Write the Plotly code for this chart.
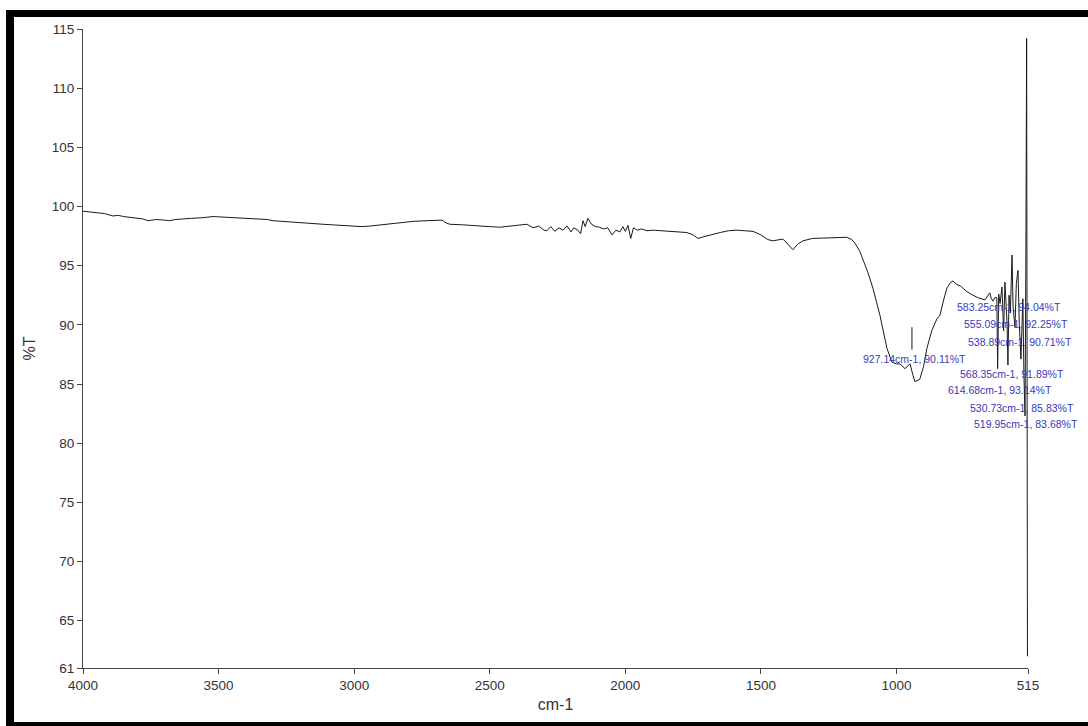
import plotly.graph_objects as go

# ---- data ----
wavenumber = [
    4000, 3960, 3920, 3890, 3870, 3850, 3820, 3800, 3780, 3760, 3730, 3700, 3680, 3660, 3640,
    3600, 3560, 3520, 3480, 3440, 3400, 3350, 3320, 3300, 3274, 3240, 3200, 3150, 3115, 3080,
    3050, 3000, 2971, 2940, 2905, 2860, 2831, 2780, 2731, 2700, 2676, 2660, 2647, 2600, 2550,
    2500, 2463, 2420, 2380, 2363, 2340, 2320, 2300, 2289, 2275, 2260, 2245, 2230, 2215, 2200,
    2190, 2175, 2165, 2156, 2148, 2138, 2125, 2110, 2095, 2080, 2065, 2049, 2035, 2020, 2009,
    2000, 1990, 1980, 1970, 1955, 1940, 1920, 1898, 1860, 1820, 1773, 1750, 1732, 1710, 1688,
    1650, 1620, 1589, 1560, 1529, 1500, 1474, 1456, 1430, 1419, 1400, 1382, 1365, 1345, 1310,
    1271, 1220, 1183, 1165, 1153, 1135, 1124, 1105, 1087, 1061, 1035, 1017, 1000, 987, 969,
    955, 950, 940, 932, 914, 900, 888, 870, 851, 840, 825, 814, 800, 792, 777, 765, 755, 740,
    718, 700, 674, 665, 656, 650, 644, 637, 630, 627, 623, 618, 611, 605, 600, 592, 589, 585,
    580, 574, 570, 563, 558, 552, 547, 541, 537, 534, 530, 526, 523, 520, 517, 515,
]
transmittance = [
    99.6, 99.5, 99.4, 99.2, 99.25, 99.15, 99.05, 99.0, 98.95, 98.8, 98.9, 98.85, 98.8, 98.9,
    98.95, 99.0, 99.05, 99.15, 99.1, 99.05, 99.0, 98.95, 98.9, 98.8, 98.75, 98.7, 98.65, 98.55,
    98.5, 98.45, 98.4, 98.35, 98.3, 98.35, 98.45, 98.55, 98.65, 98.75, 98.8, 98.8, 98.85, 98.6,
    98.5, 98.45, 98.4, 98.3, 98.25, 98.35, 98.5, 98.5, 98.2, 98.35, 98.0, 97.95, 98.3, 97.9,
    98.2, 98.0, 98.35, 97.85, 98.2, 98.0, 97.7, 98.8, 98.3, 99.0, 98.5, 98.3, 98.25, 98.1,
    98.2, 97.6, 98.0, 97.85, 98.3, 97.9, 98.4, 97.3, 98.2, 98.0, 98.1, 97.95, 98.0, 97.95,
    97.9, 97.8, 97.6, 97.3, 97.45, 97.6, 97.8, 97.95, 98.0, 97.95, 97.9, 97.6, 97.2, 97.1,
    97.2, 97.25, 96.8, 96.35, 96.8, 97.1, 97.3, 97.35, 97.4, 97.4, 97.2, 96.9, 96.2, 95.6,
    94.4, 93.1, 90.8, 88.0, 86.85, 86.7, 86.7, 86.3, 86.6, 86.7, 85.8, 85.2, 85.4, 86.5, 88.0,
    89.5, 90.5, 90.8, 92.2, 93.1, 93.6, 93.7, 93.4, 93.3, 93.1, 92.8, 92.5, 92.3, 92.1, 92.4,
    92.7, 92.2, 92.0, 92.3, 92.3, 86.3, 92.6, 91.8, 93.2, 89.5, 93.6, 90.0, 86.6, 92.5, 91.0,
    95.9, 91.5, 89.8, 93.5, 94.6, 90.0, 87.1, 91.5, 92.2, 85.8, 82.3, 95.0, 114.2, 62.0, 62.5,
]

# peak labels (text and anchor position in data units)
peak_labels = [
    "583.25cm-1, 94.04%T", "555.09cm-1, 92.25%T", "538.89cm-1, 90.71%T",
    "927.14cm-1, 90.11%T", "568.35cm-1, 91.89%T", "614.68cm-1, 93.14%T",
    "530.73cm-1, 85.83%T", "519.95cm-1, 83.68%T",
]
label_x = [784, 758.5, 743.7, 1131, 773.3, 817.5, 736.4, 721.6]
label_y = [91.5, 90.06, 88.54, 87.1, 85.84, 84.48, 82.96, 81.61]

x_ticks = [4000, 3500, 3000, 2500, 2000, 1500, 1000, 515]
y_ticks = [61, 65, 70, 75, 80, 85, 90, 95, 100, 105, 110, 115]

FONT = "Arial, Liberation Sans, sans-serif"

fig = go.Figure()
fig.add_trace(go.Scatter(
    x=wavenumber, y=transmittance, mode="lines",
    line=dict(color="#1a1a1a", width=1), showlegend=False, hoverinfo="skip",
))

for t, lx, ly in zip(peak_labels, label_x, label_y):
    fig.add_annotation(x=lx, y=ly, text=t, showarrow=False, xanchor="left",
                       yanchor="middle", font=dict(family=FONT, size=10.5, color="#3a3ab8"))

# peak marker line near 927 cm-1
fig.add_shape(type="line", xref="x", yref="y", x0=943, x1=943, y0=87.9, y1=89.8,
              line=dict(color="#1a1a1a", width=1))

# thick black frame (top, left, bottom) in paper units relative to the plot area
L, R, T, B = 83, 60, 29, 58
W, H = 1088, 726
pw, ph = W - L - R, H - T - B
def px2x(px):
    return (px - L) / pw
def py2y(py):
    return (H - B - py) / ph
frame = [
    (6, 10, W, 17),   # top
    (6, 10, 14, H),   # left
    (6, 722, W, H),   # bottom
]
for x0, y0, x1, y1 in frame:
    fig.add_shape(type="rect", xref="paper", yref="paper",
                  x0=px2x(x0), x1=px2x(x1), y0=py2y(y0), y1=py2y(y1),
                  fillcolor="black", line=dict(width=0), layer="above")

fig.update_layout(
    width=W, height=H,
    margin=dict(l=L, r=R, t=T, b=B),
    paper_bgcolor="white", plot_bgcolor="white",
    font=dict(family=FONT, color="#333333"),
    xaxis=dict(
        range=[4000, 515], tickvals=x_ticks, ticktext=[str(v) for v in x_ticks],
        showgrid=False, zeroline=False, showline=True, linecolor="#444444", linewidth=1,
        ticks="outside", ticklen=5, tickcolor="#444444",
        tickfont=dict(family=FONT, size=13.5, color="#333333"),
        title=dict(text="cm-1", font=dict(family=FONT, size=16, color="#333333"), standoff=6),
    ),
    yaxis=dict(
        range=[61, 115], tickvals=y_ticks, ticktext=[str(v) for v in y_ticks],
        showgrid=False, zeroline=False, showline=True, linecolor="#444444", linewidth=1,
        ticks="outside", ticklen=5, tickcolor="#444444",
        tickfont=dict(family=FONT, size=13.5, color="#333333"),
        title=dict(text="%T", font=dict(family=FONT, size=16, color="#333333"), standoff=12),
    ),
)

fig.write_html("out.html")
